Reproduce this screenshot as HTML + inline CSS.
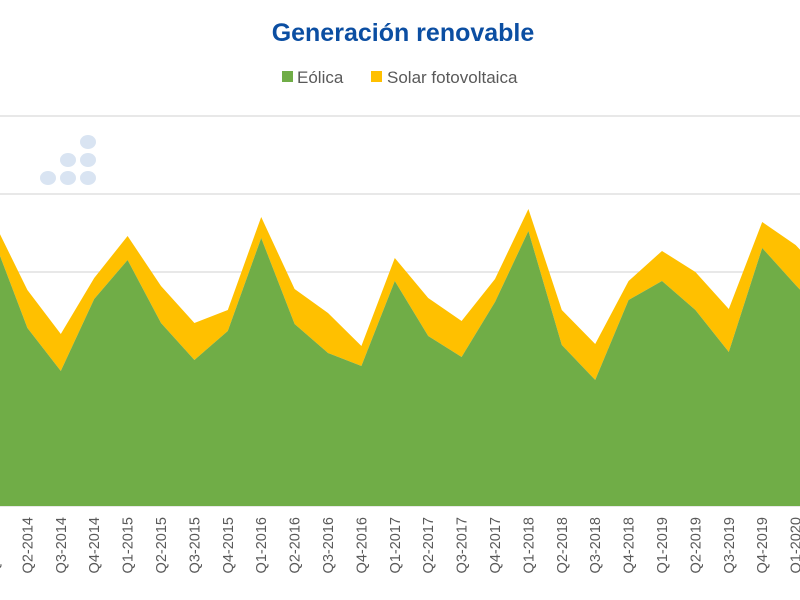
<!DOCTYPE html>
<html><head><meta charset="utf-8"><style>
body{margin:0;background:#fff;}
svg{display:block;font-family:"Liberation Sans",sans-serif;}
</style></head><body>
<svg id="c" width="800" height="600">
<text x="403" y="41" text-anchor="middle" font-size="25" font-weight="bold" fill="#0b4ea2">Generación renovable</text>
<g>
<rect x="282" y="71" width="11" height="11" fill="#70ad47"/>
<text x="297" y="83" font-size="17" fill="#595959">Eólica</text>
<rect x="371" y="71" width="11" height="11" fill="#ffc000"/>
<text x="387" y="83" font-size="17" fill="#595959">Solar fotovoltaica</text>
</g>
<g fill="#d9e4f2">
<ellipse cx="48" cy="178" rx="8" ry="7"/><ellipse cx="68" cy="178" rx="8" ry="7"/><ellipse cx="88" cy="178" rx="8" ry="7"/>
<ellipse cx="68" cy="160" rx="8" ry="7"/><ellipse cx="88" cy="160" rx="8" ry="7"/><ellipse cx="88" cy="142" rx="8" ry="7"/>
</g>
<g id="grid"></g><g id="areas"></g><g id="xl"></g>
</svg>
<script>
const categories=["Q1-2014","Q2-2014","Q3-2014","Q4-2014","Q1-2015","Q2-2015","Q3-2015","Q4-2015","Q1-2016","Q2-2016","Q3-2016","Q4-2016","Q1-2017","Q2-2017","Q3-2017","Q4-2017","Q1-2018","Q2-2018","Q3-2018","Q4-2018","Q1-2019","Q2-2019","Q3-2019","Q4-2019","Q1-2020","Q2-2020"];
const eolica=[3410,2282,1731,2654,3154,2346,1872,2244,3436,2333,1962,1795,2885,2179,1910,2615,3526,2064,1615,2641,2885,2513,1974,3308,2833,2385];
const solar=[231,487,474,269,308,474,474,269,269,449,513,256,295,487,462,295,282,449,462,244,385,487,551,333,513,513];
const gridTicks=[0,1000,2000,3000,4000,5000];
const NS="http://www.w3.org/2000/svg";
const x=i=>-6+i*33.4;
const y=v=>506-v*0.078;
function mk(t,a,p){const e=document.createElementNS(NS,t);for(const k in a)e.setAttribute(k,a[k]);p.appendChild(e);return e;}
const g=document.getElementById('grid');
gridTicks.forEach(t=>{const l=mk('line',{x1:0,x2:800,y1:y(t),y2:y(t),stroke:'#d9d9d9','stroke-width':1.3},g);

});
const ar=document.getElementById('areas');
let pg=[],pt=[];
categories.forEach((c,i)=>{pg.push(x(i)+','+y(eolica[i]));pt.push(x(i)+','+y(eolica[i]+solar[i]));});
const base=x(categories.length-1)+','+y(0)+' '+x(0)+','+y(0);
const sp=mk('polygon',{points:pt.join(' ')+' '+pg.slice().reverse().join(' '),fill:'#ffc000'},ar);


const gp=mk('polygon',{points:pg.join(' ')+' '+base,fill:'#70ad47'},ar);


const xl=document.getElementById('xl');
categories.forEach((c,i)=>{const t=mk('text',{x:0,y:0,transform:`translate(${x(i)+5},517) rotate(-90)`,'text-anchor':'end','font-size':14.5,fill:'#595959'},xl);
t.textContent=c;

});
</script>
</body></html>
